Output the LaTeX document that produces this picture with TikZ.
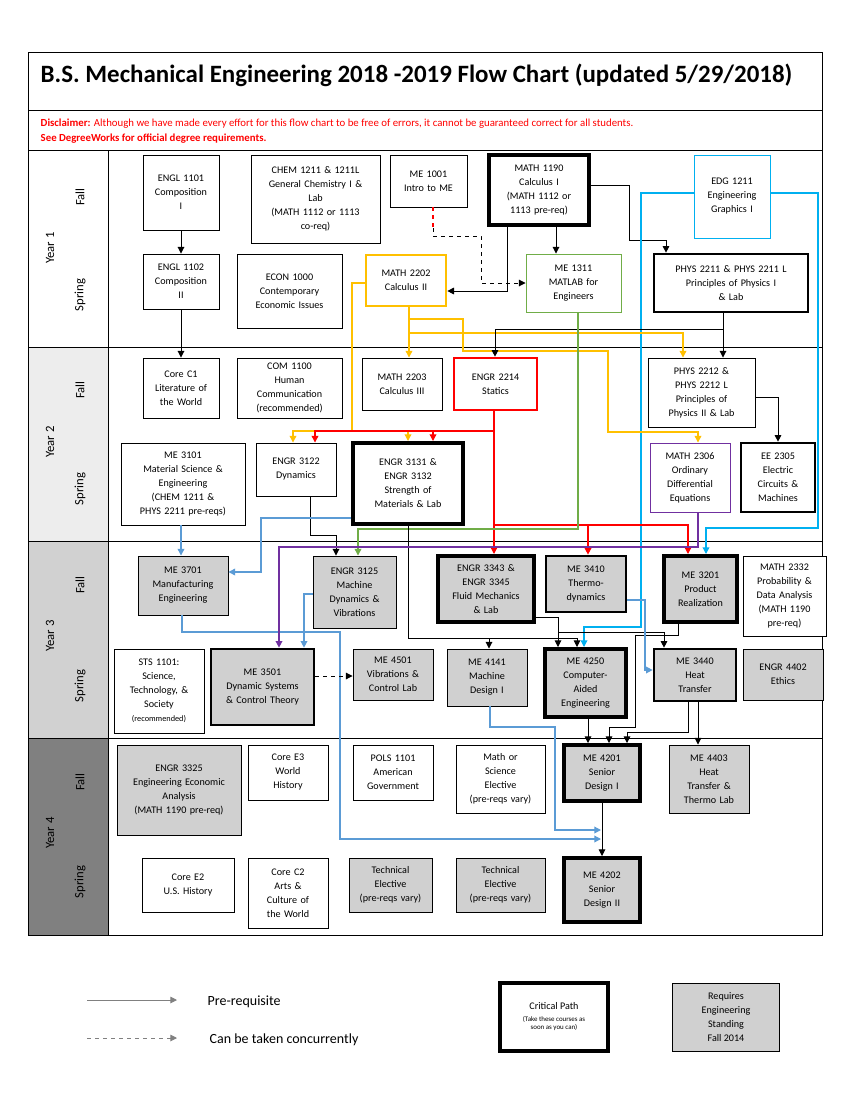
\documentclass[tikz,border=0pt]{standalone}
\usepackage{fontspec}
\setmainfont{Carlito}
\usetikzlibrary{arrows.meta}
\definecolor{cyn}{HTML}{00B0F0}
\definecolor{lb}{HTML}{5B9BD5}
\definecolor{yl}{HTML}{FFC000}
\definecolor{gr}{HTML}{70AD47}
\definecolor{pu}{HTML}{7030A0}
\definecolor{rd}{HTML}{FF0000}
\definecolor{gf}{HTML}{D0D0D0}
\newcommand{\bx}[7]{\node[box,#6,minimum width={(#4-#2)*0.75pt},minimum height={(#5-#3)*0.75pt},text width={(#4-#2)*0.75pt-2pt}] (#1) at ({(#2+#4)/2},{(#3+#5)/2}) {#7};}
\begin{document}
\begin{tikzpicture}[x=0.75pt,y=-0.75pt,
 box/.style={draw,line width=0.7pt,inner sep=0pt,align=center,font=\fontsize{7.6}{10.5}\selectfont,fill=white},
 thk/.style={line width=2pt},
 vthk/.style={line width=3pt},
 gry/.style={fill=gf},
 ar/.style={-{Triangle[length=5pt,width=5pt]},line width=0.7pt},
 car/.style={ar,line width=0.95pt},
 lbl/.style={font=\fontsize{9.5}{10}\selectfont,rotate=90}]
\useasboundingbox (0,0) rectangle (850,1100);
% frame
\draw[line width=0.7pt] (28,52) rectangle (822,110);
\node[anchor=west,font=\bfseries\fontsize{18.7}{20}\selectfont] (title) at (36,75) {B.S. Mechanical Engineering 2018 -2019 Flow Chart (updated 5/29/2018)};
\draw[line width=0.7pt] (28,110) rectangle (822,150);
\node[anchor=west,font=\fontsize{8.1}{9}\selectfont,text=rd] (disc) at (36,124) {\textbf{Disclaimer:} Although we have made every effort for this flow chart to be free of errors, it cannot be guaranteed correct for all students.};
\node[anchor=west,font=\bfseries\fontsize{8.1}{9}\selectfont,text=rd] (disc2) at (36,139) {See DegreeWorks for official degree requirements.};
\fill[white] (28,150) rectangle (108,347);
\fill[black!7] (28,347) rectangle (108,541);
\fill[black!18] (28,541) rectangle (108,738);
\fill[black!50] (28,738) rectangle (108,935);
\draw[line width=0.7pt] (28,150) rectangle (822,935);
\draw[line width=0.7pt] (108,150) -- (108,935);
\foreach \y in {347,541,738} \draw[line width=0.7pt] (28,\y) -- (822,\y);
\foreach \y/\t in {248/Year 1,442/Year 2,636/Year 3,833/Year 4} \node[lbl] at (50,\y) {\t};
\foreach \y in {197,390,585,782} \node[lbl] at (80,\y) {Fall};
\foreach \y in {295,489,686,882} \node[lbl] at (80,\y) {Spring};
% Year 1
\bx{engl1}{143}{155}{219}{230}{}{ENGL 1101\\Composition\\I}
\bx{chem}{251}{155}{380}{243}{}{CHEM 1211 \& 1211L\\General Chemistry I \&\\Lab\\(MATH 1112 or 1113\\co-req)}
\bx{me1001}{390}{155}{467}{207}{}{ME 1001\\Intro to ME}
\bx{m1190}{489}{155}{589}{225}{vthk}{MATH 1190\\Calculus I\\(MATH 1112 or\\1113 pre-req)}
\bx{edg}{694}{155}{770}{238}{draw=cyn}{EDG 1211\\Engineering\\Graphics I}
\bx{engl2}{143}{254}{219}{309}{}{ENGL 1102\\Composition\\II}
\bx{econ}{237}{254}{342}{328}{}{ECON 1000\\Contemporary\\Economic Issues}
\bx{m2202}{366}{255}{446}{306}{thk,draw=yl}{MATH 2202\\Calculus II}
\bx{me1311}{526}{254}{621}{312}{draw=gr}{ME 1311\\MATLAB for\\Engineers}
\bx{phys1}{654}{254}{808}{312}{thk}{PHYS 2211 \& PHYS 2211 L\\Principles of Physics I\\\& Lab}
% Year 2
\bx{corec1}{143}{358}{219}{418}{}{Core C1\\Literature of\\the World}
\bx{com}{237}{358}{342}{418}{}{COM 1100\\Human\\Communication\\(recommended)}
\bx{m2203}{362}{358}{442}{410}{}{MATH 2203\\Calculus III}
\bx{e2214}{454}{358}{537}{410}{thk,draw=rd}{ENGR 2214\\Statics}
\bx{phys2}{648}{358}{755}{427}{}{PHYS 2212 \&\\PHYS 2212 L\\Principles of\\Physics II \& Lab}
\bx{me3101}{121}{443}{245}{525}{}{ME 3101\\Material Science \&\\Engineering\\(CHEM 1211 \&\\PHYS 2211 pre-reqs)}
\bx{e3122}{256}{443}{336}{496}{}{ENGR 3122\\Dynamics}
\bx{e3131}{353}{443}{463}{524}{vthk}{ENGR 3131 \&\\ENGR 3132\\Strength of\\Materials \& Lab}
\bx{m2306}{650}{443}{730}{512}{draw=pu}{MATH 2306\\Ordinary\\Differential\\Equations}
\bx{ee}{741}{443}{815}{512}{thk}{EE 2305\\Electric\\Circuits \&\\Machines}
% Year 3
\bx{me3701}{138}{556}{228}{615}{gry}{ME 3701\\Manufacturing\\Engineering}
\bx{e3125}{313}{556}{396}{628}{gry}{ENGR 3125\\Machine\\Dynamics \&\\Vibrations}
\bx{e3343}{438}{556}{534}{622}{vthk,gry}{ENGR 3343 \&\\ENGR 3345\\Fluid Mechanics\\\& Lab}
\bx{me3410}{546}{556}{626}{612}{thk,gry}{ME 3410\\Thermo-\\dynamics}
\bx{me3201}{664}{556}{737}{622}{vthk,gry}{ME 3201\\Product\\Realization}
\bx{m2332}{743}{556}{826}{636}{}{MATH 2332\\Probability \&\\Data Analysis\\(MATH 1190\\pre-req)}
\bx{sts}{114}{649}{204}{733}{}{STS 1101:\\Science,\\Technology, \&\\Society\\{\fontsize{6.2}{8}\selectfont(recommended)}}
\bx{me3501}{211}{649}{314}{725}{thk,gry}{ME 3501\\Dynamic Systems\\\& Control Theory}
\bx{me4501}{353}{649}{433}{700}{gry}{ME 4501\\Vibrations \&\\Control Lab}
\bx{me4141}{447}{649}{527}{706}{gry}{ME 4141\\Machine\\Design I}
\bx{me4250}{545}{649}{626}{717}{vthk,gry}{ME 4250\\Computer-\\Aided\\Engineering}
\bx{me3440}{654}{649}{736}{701}{thk,gry}{ME 3440\\Heat\\Transfer}
\bx{e4402}{743}{649}{823}{700}{gry}{ENGR 4402\\Ethics}
% Year 4
\bx{e3325}{117}{745}{241}{835}{gry}{ENGR 3325\\Engineering Economic\\Analysis\\(MATH 1190 pre-req)}
\bx{coree3}{248}{745}{328}{800}{}{Core E3\\World\\History}
\bx{pols}{353}{745}{433}{800}{}{POLS 1101\\American\\Government}
\bx{msci}{456}{745}{545}{813}{}{Math or\\Science\\Elective\\(pre-reqs vary)}
\bx{me4201}{564}{745}{640}{801}{vthk,gry}{ME 4201\\Senior\\Design I}
\bx{me4403}{669}{745}{749}{813}{gry}{ME 4403\\Heat\\Transfer \&\\Thermo Lab}
\bx{coree2}{142}{858}{234}{912}{}{Core E2\\U.S. History}
\bx{corec2}{248}{858}{328}{928}{}{Core C2\\Arts \&\\Culture of\\the World}
\bx{tech1}{349}{858}{432}{912}{gry}{Technical\\Elective\\(pre-reqs vary)}
\bx{tech2}{456}{858}{545}{912}{gry}{Technical\\Elective\\(pre-reqs vary)}
\bx{me4202}{564}{858}{640}{922}{vthk,gry}{ME 4202\\Senior\\Design II}
% connectors
\draw[ar] (engl1) -- (engl2);
\draw[ar] (engl2) -- (corec1);
\draw[rd,dashed,line width=0.8pt] (me1001.south -| 433,0) -- (433,228);
\draw[ar,dashed] (433,228) -- (433,236) -- (481,236) -- (481,283) -- (me1311.west |- 0,283);
\draw[ar] (m1190.south -| 507,0) -- (507,291) -- (m2202.east |- 0,291);
\draw[ar] (m1190.south -| 556,0) -- (me1311.north -| 556,0);
\draw[ar] (m1190.east |- 0,185) -- (629,185) -- (629,240) -- (666,240) -- (phys1.north -| 666,0);
\draw[car,cyn] (edg.west |- 0,193) -- (641,193) -- (641,627) -- (584,627) -- (me4250.north -| 584,0);
\draw[car,cyn] (edg.east |- 0,193) -- (818,193) -- (818,528) -- (706,528) -- (me3201.north -| 706,0);
\draw[car,yl] (m2202.south -| 409,0) -- (m2203.north -| 409,0);
\draw[car,yl] (409,319) -- (463,319) -- (463,351) -- (608,351) -- (608,432) -- (698,432) -- (m2306.north -| 698,0);
\draw[car,yl] (409,333) -- (683,333) -- (phys2.north -| 683,0);
\draw[car,yl] (m2202.west |- 0,283) -- (352,283) -- (352,431) -- (293,431) -- (e3122.north -| 293,0);
\draw[car,yl] (352,431) -- (408,431) -- (e3131.north -| 408,0);
\draw[car,rd] (e2214.south -| 494,0) -- (494,431) -- (315,431) -- (e3122.north -| 315,0);
\draw[car,rd] (433,431) -- (e3131.north -| 433,0);
\draw[car,rd] (494,431) -- (e3343.north -| 494,0);
\draw[car,rd] (494,525) -- (688,525) -- (me3201.north -| 688,0);
\draw[car,rd] (588,525) -- (me3410.north -| 588,0);
\draw[ar] (phys1.south -| 723,0) -- (phys2.north -| 723,0);
\draw[ar] (723,329) -- (495,329) -- (e2214.north -| 495,0);
\draw[ar] (phys2.east |- 0,397) -- (778,397) -- (ee.north -| 778,0);
\draw[car,gr] (me1311.south -| 578,0) -- (578,529) -- (358,529) -- (e3125.north -| 358,0);
\draw[ar] (e3122.south -| 310,0) -- (310,535) -- (336,535) -- (e3125.north -| 336,0);
\draw[car,lb] (me3101.south -| 181,0) -- (me3701.north -| 181,0);
\draw[car,lb] (e3131.west |- 0,518) -- (261,518) -- (261,572) -- (me3701.east |- 0,572);
\draw[ar] (e3131.south -| 408,0) -- (408,638) -- (577,638) -- (me4250.north -| 577,0);
\draw[ar] (489,638) -- (me4141.north -| 489,0);
\draw[ar] (e3343.east |- 0,617) -- (558,617) -- (me4250.north -| 558,0);
\draw[ar] (558,632) -- (664,632) -- (me3440.north -| 664,0);
\draw[ar] (me3201.south -| 678,0) -- (678,635) -- (635,635) -- (635,727) -- (609,727) -- (me4201.north -| 609,0);
\draw[car,lb] (me3410.east |- 0,600) -- (645,600) -- (645,670) -- (me3440.west |- 0,670);
\draw[ar] (me4250.south -| 588,0) -- (me4201.north -| 588,0);
\draw[ar] (me3440.south -| 688,0) -- (688,732) -- (627,732) -- (me4201.north -| 627,0);
\draw[ar] (me3440.south -| 698,0) -- (me4403.north -| 698,0);
\draw[ar] (me4201.south -| 602,0) -- (me4202.north -| 602,0);
\draw[car,lb] (me3701.south -| 182,0) -- (182,632) -- (340,632) -- (340,839) -- (601,839);
\draw[car,lb] (me4141.south -| 490,0) -- (490,727) -- (555,727) -- (555,830) -- (601,830);
\draw[car,lb] (e3125.west |- 0,594) -- (304,594) -- (me3501.north -| 304,0);
\draw[car,pu] (m2306.south -| 698,0) -- (698,547) -- (279,547) -- (me3501.north -| 279,0);
\draw[ar,dashed] (me3501.east |- 0,676) -- (me4501.west |- 0,676);
% legend
\coordinate (l1a) at (87,1000); \coordinate (l1b) at (177,1000);
\coordinate (l2a) at (87,1038); \coordinate (l2b) at (177,1038);
\draw[ar,gray] (l1a) -- (l1b);
\draw[ar,gray,dashed] (l2a) -- (l2b);
\node[anchor=west,font=\fontsize{10.5}{12}\selectfont] (lt1) at (203,1002) {Pre-requisite};
\node[anchor=west,font=\fontsize{10.5}{12}\selectfont] (lt2) at (205,1040) {Can be taken concurrently};
\node[box,vthk,minimum width=81pt,minimum height=51pt] (crit) at (554,1017) {Critical Path\\[-2pt]{\fontsize{5.2}{6}\selectfont(Take these courses as}\\[-4pt]{\fontsize{5.2}{6}\selectfont soon as you can)}};
\node[box,gry,minimum width=80pt,minimum height=51pt] (eng) at (726,1017) {Requires\\Engineering\\Standing\\Fall 2014};
\end{tikzpicture}
\end{document}
